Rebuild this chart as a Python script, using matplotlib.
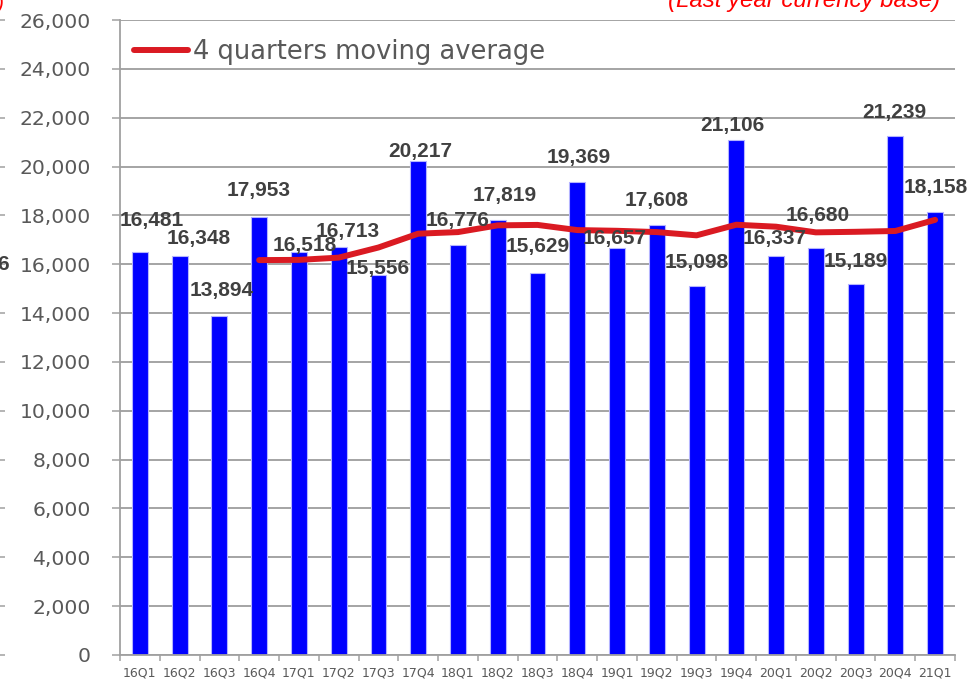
import numpy as np
import matplotlib
matplotlib.use("Agg")
import matplotlib.pyplot as plt

categories = ["16Q1", "16Q2", "16Q3", "16Q4", "17Q1", "17Q2", "17Q3", "17Q4",
              "18Q1", "18Q2", "18Q3", "18Q4", "19Q1", "19Q2", "19Q3", "19Q4",
              "20Q1", "20Q2", "20Q3", "20Q4", "21Q1"]
quarterly = [16481, 16348, 13894, 17953, 16518, 16713, 15556, 20217,
             16776, 17819, 15629, 19369, 16657, 17608, 15098, 21106,
             16337, 16680, 15189, 21239, 18158]
moving_avg = [np.nan, np.nan, np.nan, 16169, 16178, 16270, 16685, 17251,
              17316, 17592, 17610, 17398, 17369, 17316, 17183, 17617,
              17537, 17305, 17328, 17361, 17817]
y_ticks = list(range(0, 26001, 2000))
legend_label = "4 quarters moving average"
note_text = "(Last year currency base)"

# per-label offsets (pixels) relative to bar top centre, as placed in the reference
label_offsets = [(12, 32), (19, 17), (2, 25), (-1, 26), (6, 6), (9, 15), (-1, 7),
                 (2, 10), (0, 25), (7, 24), (0, 27), (1, 24), (-2, 10), (0, 24),
                 (0, 24), (-4, 14), (-1, 18), (2, 32), (0, 23), (-1, 24), (1, 24)]

W, H = 980, 681
fig = plt.figure(figsize=(W / 100, H / 100), dpi=100)
ax = fig.add_axes([120 / W, 1 - 655 / H, (955 - 120) / W, (655 - 20) / H])

x = np.arange(len(categories))
ax.bar(x, quarterly, width=0.4, color="#0000FF", edgecolor="#B4B4FF",
       linewidth=0.8, zorder=2)
ax.plot(x, moving_avg, color="#DA1A22", linewidth=4.3, solid_capstyle="round",
        solid_joinstyle="round", zorder=3, label=legend_label)

for xi, v, (dx, dy) in zip(x, quarterly, label_offsets):
    ax.annotate(f"{v:,}", xy=(xi, v), xytext=(dx, dy), textcoords="offset pixels",
                ha="center", va="center", fontsize=15, fontweight="bold",
                color="#404040", family="Liberation Sans", zorder=4)

ax.set_xlim(-0.5, len(categories) - 0.5)
ax.set_ylim(0, 26000)
ax.set_yticks(y_ticks)
ax.set_yticklabels([f"{t:,}" for t in y_ticks])
ax.set_xticks(x)
ax.set_xticklabels(categories)
ax.set_xticks(np.arange(-0.5, len(categories)), minor=True)

ax.grid(axis="y", color="#8C8C8C", linewidth=1.1, zorder=0)
ax.set_axisbelow(True)
for s in ["top", "right"]:
    ax.spines[s].set_visible(False)
for s in ["left", "bottom"]:
    ax.spines[s].set_color("#A0A0A0")
    ax.spines[s].set_linewidth(1.3)

ax.tick_params(axis="y", which="major", direction="out", length=6, width=1.1,
               color="#A0A0A0", labelsize=14.7, labelcolor="#595959", pad=15)
ax.tick_params(axis="x", which="major", length=0, labelsize=9, labelcolor="#595959",
               pad=8.5)
ax.tick_params(axis="x", which="minor", direction="out", length=4, width=1.1,
               color="#A0A0A0")
for lab in ax.get_xticklabels() + ax.get_yticklabels():
    lab.set_family("DejaVu Sans")

leg = ax.legend(loc="upper left", bbox_to_anchor=(-0.005, 0.998), frameon=False,
                fontsize=18.5, handlelength=2.1, handletextpad=0.2,
                borderaxespad=0.3)
for t in leg.get_texts():
    t.set_color("#595959")

# clipped note at top right
fig.text(940 / W, 1 - 7 / H, note_text, ha="right", va="baseline", color="#FF0000",
         fontsize=17.3, style="italic", family="Liberation Sans")

# neighbouring-chart fragments at the left edge of the crop
fig.text(-4 / W, 1 - 4 / H, ")", ha="left", va="center", color="#FF0000",
         fontsize=15, style="italic", family="Liberation Sans")
fig.text(-3 / W, 1 - 265 / H, "6", ha="left", va="center", color="#404040",
         fontsize=15, fontweight="bold", family="Liberation Sans")
ax_l = fig.add_axes([-0.2, 1 - 655 / H, 0.2 + (-1) / W, (655 - 20) / H])
ax_l.set_ylim(0, 26000)
ax_l.set_yticks(y_ticks)
ax_l.yaxis.tick_right()
ax_l.tick_params(axis="y", direction="out", length=4, width=1.1, color="#A0A0A0",
                 labelright=False)
ax_l.set_xticks([])
for s in ax_l.spines.values():
    s.set_visible(False)
ax_l.patch.set_alpha(0)

fig.savefig("out.png", dpi=100)
